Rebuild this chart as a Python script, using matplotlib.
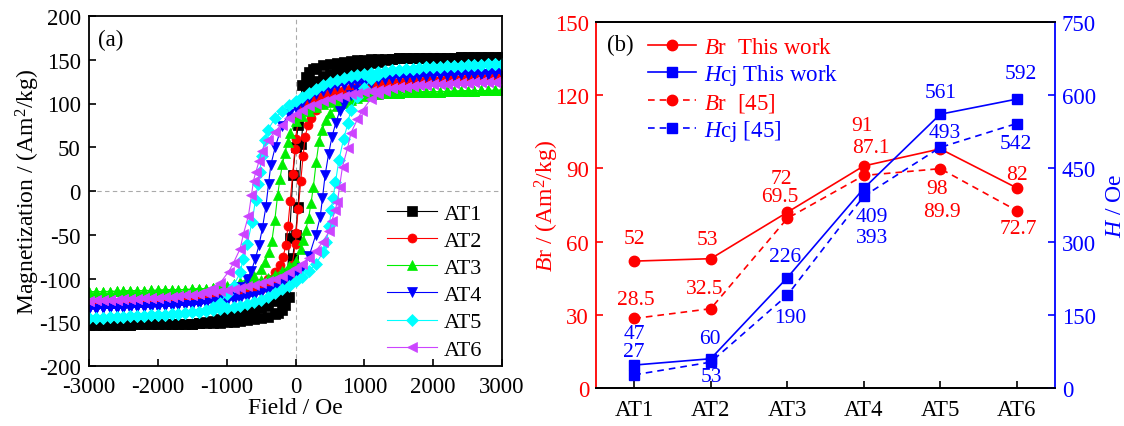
import numpy as np
import matplotlib.pyplot as plt

plt.rcParams['font.family'] = ['Liberation Serif', 'DejaVu Serif']
plt.rcParams['mathtext.fontset'] = 'custom'
plt.rcParams['mathtext.rm'] = 'Liberation Serif'
plt.rcParams['mathtext.it'] = 'Liberation Serif:italic'
plt.rcParams['axes.unicode_minus'] = False

# ---------------- (a) hysteresis loops: descending branches ----------------
# upper saturation tail, field in Oe (shared by all samples)
H_TAIL = [3000, 2900, 2800, 2700, 2600, 2500, 2400, 2300, 2200, 2100, 2000, 1900, 1800, 1700, 1600, 1500, 1400]

# magnetization on the tail, Am2/kg
tail_at1 = [153.2, 153.1, 153.0, 152.9, 152.8, 152.7, 152.6, 152.5, 152.4, 152.3, 152.2, 152.1, 152.0, 151.9, 151.8, 151.6, 151.4]
tail_at2 = [130, 129.8, 129.6, 129.3, 129, 128.7, 128.4, 128.1, 127.7, 127.3, 127, 126.6, 126.2, 125.7, 125.2, 124.7, 124.1]
tail_at3 = [115.2, 115.1, 115.0, 114.9, 114.7, 114.5, 114.3, 114.1, 113.9, 113.7, 113.5, 113.3, 113.0, 112.8, 112.6, 112.3, 112.0]
tail_at4 = [134.6, 134.4, 134.2, 134.0, 133.8, 133.5, 133.2, 132.9, 132.6, 132.3, 132.0, 131.6, 131.2, 130.8, 130.3, 129.8, 129.2]
tail_at5 = [145.2, 145.0, 144.7, 144.4, 144.1, 143.8, 143.4, 143.0, 142.6, 142.2, 141.7, 141.2, 140.6, 140.0, 139.4, 138.7, 138.0]
tail_at6 = [125.2, 125.0, 124.7, 124.4, 124.1, 123.8, 123.5, 123.1, 122.7, 122.3, 121.8, 121.3, 120.7, 120.0, 119.2, 118.4, 117.5]

# switching part of the descending branch (1300 Oe -> -1300 Oe)
h_at1 = [1300, 1200, 1100, 1000, 900, 800, 700, 600, 500, 400, 300, 250, 200, 150, 100, 70, 40, 0, -38, -87,
         -116, -150, -200, -250, -300, -400, -500, -600, -700, -800, -900, -1000, -1100, -1200, -1300]
m_at1 = [151.2, 150.8, 150.3, 149.8, 149.2, 148.5, 147.5, 146.5, 145, 143.5, 141, 139, 136, 130, 121, 102, 76, 50, 18, -54,
         -95, -112, -119, -123, -126, -131, -134, -136.5, -138.5, -140.5, -142.5, -144.5, -146.5, -148, -149.5]

h_at2 = [1300, 1200, 1100, 1000, 900, 800, 700, 600, 500, 400, 300, 200, 100, 50, 0, -9, -40, -77, -110, -140,
         -180, -222, -300, -400, -500, -600, -700, -800, -900, -1000, -1100, -1200, -1300]
m_at2 = [123.5, 122.5, 121.5, 120.3, 119, 117.5, 116, 114, 111.5, 108.5, 105, 101, 96, 85, 60, 48, 20, -11, -40, -62,
         -75, -84, -93, -100, -105, -109, -112, -114.5, -117, -119, -121, -122.5, -123.5]

h_at3 = [1300, 1200, 1100, 1000, 900, 800, 700, 600, 500, 400, 300, 200, 100, 0, -77, -116, -150, -190, -225, -260,
         -300, -343, -390, -440, -500, -600, -700, -800, -900, -1000, -1100, -1200, -1300]
m_at3 = [111.6, 111.1, 110.4, 109.6, 108.7, 107.6, 106.2, 104.4, 102, 99, 95.5, 91, 86, 80, 66, 56, 44, 31, 14, -5,
         -33, -57, -70, -81, -89, -97, -101, -104, -106.5, -108.5, -110, -111, -111.6]

h_at4 = [1300, 1200, 1100, 1000, 900, 800, 700, 600, 500, 400, 300, 200, 100, 0, -100, -200, -295, -358, -392, -430,
         -480, -530, -586, -640, -700, -800, -900, -1000, -1100, -1200, -1300]
m_at4 = [128.3, 127.5, 126.5, 125.5, 124.3, 123, 121.5, 119.5, 117, 114, 110.5, 106, 101, 95, 88, 74, 50, 30, 8, -18,
         -42, -62, -78, -91, -100, -110, -116, -120.5, -124, -126.5, -128]

h_at5 = [1300, 1200, 1100, 1000, 900, 800, 700, 600, 500, 400, 300, 200, 100, 0, -100, -200, -300, -400, -450, -490,
         -520, -545, -580, -630, -700, -765, -800, -900, -1000, -1100, -1200, -1300]
m_at5 = [137.3, 136.4, 135.4, 134.2, 132.8, 131.2, 129.3, 127, 124.2, 121, 117, 112.5, 108, 103, 98, 91, 83, 70, 58, 40,
         22, 8, -10, -35, -60, -78, -93, -108, -118, -128, -133, -135.6]

h_at6 = [1300, 1200, 1100, 1000, 900, 800, 700, 600, 500, 400, 300, 200, 100, 0, -100, -200, -300, -400, -489, -530,
         -575, -610, -640, -683, -756, -804, -900, -970, -1094, -1200, -1300]
m_at6 = [116.2, 115.3, 114.2, 113, 112, 110.5, 109, 107, 105, 103, 100, 97, 93, 88, 83, 76, 68, 58, 46, 34,
         22, 12, -5, -28, -49, -66, -82, -92, -105, -111, -114]

loop_names = ['AT1', 'AT2', 'AT3', 'AT4', 'AT5', 'AT6']
loop_tails = [tail_at1, tail_at2, tail_at3, tail_at4, tail_at5, tail_at6]
loop_h = [h_at1, h_at2, h_at3, h_at4, h_at5, h_at6]
loop_m = [m_at1, m_at2, m_at3, m_at4, m_at5, m_at6]
loop_colors = ['black', '#ff0000', '#00ee00', '#0000ff', '#00ffff', '#cc44ff']
loop_markers = ['s', 'o', '^', 'v', 'D', '<']

# ---------------- (b) remanence / coercivity ----------------
samples = ['AT1', 'AT2', 'AT3', 'AT4', 'AT5', 'AT6']
br_this = [52, 53, 72, 91, 98, 82]
hcj_this = [47, 60, 226, 409, 561, 592]
br_ref = [28.5, 32.5, 69.5, 87.1, 89.9, 72.7]
hcj_ref = [27, 53, 190, 393, 493, 542]

# label offsets in points (dx, dy)
off_br_this = [(0, 16), (-2.6, 14), (-4.4, 24), (-1.3, 29), (-2.6, -28.6), (0, 10)]
off_br_ref = [(1.3, 14), (-4.7, 14.4), (-5.2, 15.5), (5.2, 20.5), (1.3, -31), (1.3, -13)]
off_hcj_this = [(0, 22.7), (-0.8, 14.4), (-1.8, 15), (6, -20.5), (0.5, 15.3), (2.8, 18.3)]
off_hcj_ref = [(0, 16.5), (0.5, -10.5), (2.1, -15.8), (6, -30), (3.1, 11), (-1, -14.6)]

RED = '#ff0000'
BLUE = '#0000ff'

fig = plt.figure(figsize=(11.24, 4.27), dpi=100)

# ================= panel (a) =================
ax = fig.add_axes([89 / 1124, 60 / 427, 413 / 1124, 350 / 427])
ax.axhline(0, color='#aaaaaa', lw=0.8, dashes=(4, 3), zorder=0)
ax.axvline(0, color='#aaaaaa', lw=0.8, dashes=(4, 3), zorder=0)

for name, tail, hc, mc, col, mk in zip(loop_names, loop_tails, loop_h, loop_m, loop_colors, loop_markers):
    # descending branch, lower tail is the point mirror of the upper one
    h_down = H_TAIL + hc + [-h for h in H_TAIL[::-1]]
    m_down = tail + mc + [-m for m in tail[::-1]]
    # ascending branch (loop is point symmetric)
    h_up = [-h for h in h_down]
    m_up = [-m for m in m_down]
    ax.plot(h_down + h_up, m_down + m_up, color=col, lw=0.8, marker=mk, ms=6.5,
            mec=col, mew=0.5, label=name)

ax.set_xlim(-3000, 3000)
ax.set_ylim(-200, 200)
ax.set_xticks([-3000, -2000, -1000, 0, 1000, 2000, 3000])
ax.set_yticks([-200, -150, -100, -50, 0, 50, 100, 150, 200])
ax.tick_params(direction='in', length=5, width=1.2, labelsize=16.5, top=False, right=False)
ax.tick_params(axis='x', pad=7)
ax.tick_params(axis='y', pad=6)
for sp in ax.spines.values():
    sp.set_linewidth(1.3)
ax.set_xlabel('Field / Oe', fontsize=17, labelpad=0)
ax.set_ylabel('Magnetization / (Am$^2$/kg)', fontsize=17, labelpad=-2)
ax.text(0.022, 0.963, '(a)', transform=ax.transAxes, fontsize=16.5, va='top', ha='left')
ax.legend(loc='lower left', bbox_to_anchor=(0.722, 0.018), frameon=False, fontsize=16,
          handlelength=2.25, handletextpad=0.3, labelspacing=0.3, borderpad=0, borderaxespad=0)

# ================= panel (b) =================
bx = fig.add_axes([596 / 1124, 38 / 427, 459 / 1124, 366 / 427])
bx2 = bx.twinx()
x = np.arange(len(samples))

l1, = bx.plot(x, br_this, color=RED, lw=1.2, marker='o', ms=7.5, label=r'$\it{B}$r  This work')
l3, = bx.plot(x, br_ref, color=RED, lw=1.2, marker='o', ms=7.5, dashes=(4, 3), label=r'$\it{B}$r  [45]')
l2, = bx2.plot(x, hcj_this, color=BLUE, lw=1.2, marker='s', ms=6.8, label=r'$\it{H}$cj This work')
l4, = bx2.plot(x, hcj_ref, color=BLUE, lw=1.2, marker='s', ms=6.8, dashes=(4, 3), label=r'$\it{H}$cj [45]')

for i in range(len(samples)):
    bx.annotate(f'{br_this[i]}', (x[i], br_this[i]), xytext=off_br_this[i], textcoords='offset points',
                ha='center', va='center', color=RED, fontsize=15.5)
    bx.annotate(f'{br_ref[i]}', (x[i], br_ref[i]), xytext=off_br_ref[i], textcoords='offset points',
                ha='center', va='center', color=RED, fontsize=15.5)
    bx2.annotate(f'{hcj_this[i]}', (x[i], hcj_this[i]), xytext=off_hcj_this[i], textcoords='offset points',
                 ha='center', va='center', color=BLUE, fontsize=15.5)
    bx2.annotate(f'{hcj_ref[i]}', (x[i], hcj_ref[i]), xytext=off_hcj_ref[i], textcoords='offset points',
                 ha='center', va='center', color=BLUE, fontsize=15.5)

bx.set_xlim(-0.5, 5.5)
bx.set_ylim(0, 150)
bx2.set_ylim(0, 750)
bx.set_xticks(x)
bx.set_xticklabels(samples)
bx.set_yticks([0, 30, 60, 90, 120, 150])
bx2.set_yticks([0, 150, 300, 450, 600, 750])

bx.tick_params(axis='x', direction='in', length=5, width=1.2, labelsize=16.5, top=False, pad=8)
bx.tick_params(axis='y', direction='in', length=5, width=1.2, labelsize=16.5, colors=RED, pad=5)
bx2.tick_params(axis='y', direction='in', length=5, width=1.2, labelsize=16.5, colors=BLUE, pad=5)

for sp in bx.spines.values():
    sp.set_linewidth(1.3)
for sp in bx2.spines.values():
    sp.set_linewidth(1.3)
bx.spines['left'].set_color(RED)
bx2.spines['left'].set_visible(False)
bx2.spines['right'].set_color(BLUE)
bx.spines['right'].set_visible(False)

bx.set_ylabel(r'$\it{B}$r / (Am$^2$/kg)', color=RED, fontsize=17, labelpad=-4)
bx2.set_ylabel(r'$\it{H}$ / Oe', color=BLUE, fontsize=17, labelpad=6)

bx.text(0.023, 0.967, '(b)', transform=bx.transAxes, fontsize=16.5, va='top', ha='left')
bx2.legend(handles=[l1, l2, l3, l4], loc='upper left', bbox_to_anchor=(0.113, 0.960), frameon=False,
           fontsize=16.5, handlelength=2.1, handletextpad=0.35, labelspacing=0.18, borderpad=0,
           borderaxespad=0, labelcolor='linecolor')

fig.savefig('out.png', dpi=100)
